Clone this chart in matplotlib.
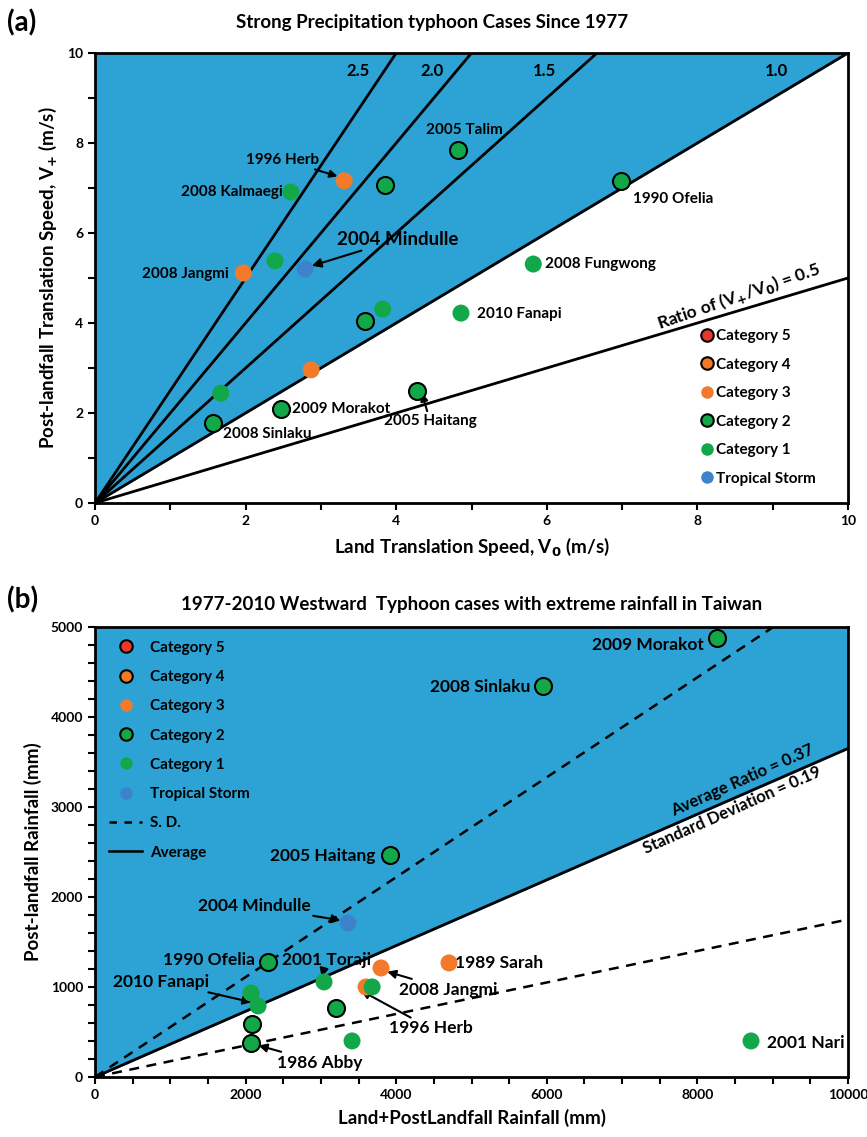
import numpy as np
import matplotlib
matplotlib.use('Agg')
import matplotlib.pyplot as plt
from matplotlib.lines import Line2D
from matplotlib.ticker import MultipleLocator

plt.rcParams['font.family'] = ['Lato', 'DejaVu Sans']
plt.rcParams['font.weight'] = 'bold'
plt.rcParams['axes.titleweight'] = 'bold'
plt.rcParams['axes.labelweight'] = 'bold'

BLUE = '#2ca3d4'
colours = {'5': '#e8382a', '4': '#f07a28', '3': '#f37a2b', '2': '#12a84a',
           '1': '#12a84a', 'TS': '#3d82cb'}
edged = {'5': True, '4': True, '3': False, '2': True, '1': False, 'TS': False}
cat_names = ['Category 5', 'Category 4', 'Category 3', 'Category 2', 'Category 1', 'Tropical Storm']
cat_keys = ['5', '4', '3', '2', '1', 'TS']

# ---- panel (a): translation speeds (m/s)
a_v0 = [3.31, 2.60, 3.85, 4.82, 6.99, 1.97, 2.39, 2.79, 5.82, 4.86, 3.59, 3.82, 2.87, 1.67, 1.57, 2.47, 4.28]
a_vp = [7.16, 6.91, 7.07, 7.84, 7.16, 5.11, 5.38, 5.20, 5.31, 4.22, 4.04, 4.31, 2.96, 2.44, 1.78, 2.09, 2.49]
a_cat = ['3', '1', '2', '2', '2', '3', '1', 'TS', '1', '1', '2', '1', '3', '1', '2', '2', '2']
a_ratios = [2.5, 2.0, 1.5, 1.0, 0.5]
a_ratio_labels = ['2.5', '2.0', '1.5', '1.0']
a_ratio_label_x = [3.49, 4.47, 5.97, 9.05]

# ---- panel (b): rainfall (mm)
b_total = [8260, 5950, 3918, 3360, 2297, 3041, 2165, 2072, 2085, 2072, 3200, 3413, 3798, 3600, 3680, 4701, 8712]
b_post = [4878, 4344, 2467, 1711, 1278, 1056, 789, 933, 589, 378, 767, 400, 1211, 1000, 1000, 1267, 400]
b_cat = ['2', '2', '2', 'TS', '2', '1', '1', '1', '2', '2', '2', '1', '3', '3', '1', '3', '1']
b_avg = 0.365
b_sd = 0.19

fig = plt.figure(figsize=(8.67, 11.37), dpi=100)
axa = fig.add_axes([0.1096, 0.5576, 0.8685, 0.3958])
axb = fig.add_axes([0.1096, 0.0528, 0.8685, 0.3958])


def scatter_cats(ax, xs, ys, cats):
    for x, y, c in zip(xs, ys, cats):
        ax.scatter(x, y, s=150, color=colours[c], edgecolors='black' if edged[c] else 'none',
                   linewidths=1.5, zorder=5)


def style_axes(ax):
    for sp in ax.spines.values():
        sp.set_linewidth(2)
    ax.tick_params(which='both', direction='out', width=1.5, labelsize=10)
    ax.tick_params(which='major', length=5)
    ax.tick_params(which='minor', length=5)


# panel (a)
xs = np.array([0, 10])
axa.fill_between(xs, xs, 10, color=BLUE, zorder=0)
for r in a_ratios:
    axa.plot(xs, r * xs, color='black', lw=2, zorder=2)
for lab, lx in zip(a_ratio_labels, a_ratio_label_x):
    axa.text(lx, 9.6, lab, fontsize=12, ha='center', va='center')
scatter_cats(axa, a_v0, a_vp, a_cat)
axa.set_xlim(0, 10)
axa.set_ylim(0, 10)
axa.xaxis.set_major_locator(MultipleLocator(2))
axa.xaxis.set_minor_locator(MultipleLocator(1))
axa.yaxis.set_major_locator(MultipleLocator(2))
axa.yaxis.set_minor_locator(MultipleLocator(1))
style_axes(axa)
axa.set_xlabel('Land Translation Speed, V$_\\mathbf{0}$ (m/s)', fontsize=13.5, labelpad=6)
axa.set_ylabel('Post-landfall Translation Speed, V$_\\mathbf{+}$ (m/s)', fontsize=13.5, labelpad=6)
axa.set_title('Strong Precipitation typhoon Cases Since 1977', fontsize=13.5, pad=18, x=0.448)

fs = 11
axa.text(4.9, 8.29, '2005 Talim', fontsize=fs, ha='center', va='center')
axa.annotate('1996 Herb', xy=(3.22, 7.26), xytext=(2.98, 7.63), fontsize=fs, ha='right', va='center',
             arrowprops=dict(arrowstyle='-|>', color='black', lw=1.5, shrinkA=0, shrinkB=0))
axa.text(2.49, 6.91, '2008 Kalmaegi', fontsize=fs, ha='right', va='center')
axa.annotate('2004 Mindulle', xy=(2.88, 5.27), xytext=(3.22, 5.86), fontsize=13.5, ha='left', va='center',
             arrowprops=dict(arrowstyle='-|>', color='black', lw=1.5, shrinkA=0, shrinkB=0))
axa.text(1.78, 5.09, '2008 Jangmi', fontsize=fs, ha='right', va='center')
axa.text(7.14, 6.76, '1990 Ofelia', fontsize=fs, ha='left', va='center')
axa.text(5.98, 5.31, '2008 Fungwong', fontsize=fs, ha='left', va='center')
axa.text(5.07, 4.2, '2010 Fanapi', fontsize=fs, ha='left', va='center')
axa.text(2.62, 2.09, '2009 Morakot', fontsize=fs, ha='left', va='center')
axa.text(1.70, 1.53, '2008 Sinlaku', fontsize=fs, ha='left', va='center')
axa.annotate('2005 Haitang', xy=(4.34, 2.44), xytext=(4.45, 1.98), fontsize=fs, ha='center', va='top',
             arrowprops=dict(arrowstyle='-|>', color='black', lw=1.5, shrinkA=0, shrinkB=0))
axa.text(8.55, 4.6, 'Ratio of (V$_\\mathbf{+}$/V$_\\mathbf{0}$) = 0.5', fontsize=12.5,
         ha='center', va='center', rotation=19)

handles = [Line2D([], [], ls='none', marker='o', ms=9, mfc=colours[k],
                  mec='black' if edged[k] else colours[k], mew=1.5 if edged[k] else 0)
           for k in cat_keys]
axa.legend(handles, cat_names, loc='lower right', bbox_to_anchor=(0.975, 0.008), frameon=False,
           fontsize=11, handletextpad=0.05, labelspacing=0.95, handlelength=1.0)

# panel (b)
xb = np.array([0, 10000])
axb.fill_between(xb, b_avg * xb, 5000, color=BLUE, zorder=0)
axb.plot(xb, b_avg * xb, color='black', lw=2, zorder=2)
axb.plot(xb, (b_avg + b_sd) * xb, color='black', lw=1.8, ls=(0, (4, 3)), zorder=2)
axb.plot(xb, (b_avg - b_sd) * xb, color='black', lw=1.8, ls=(0, (4, 3)), zorder=2)
scatter_cats(axb, b_total, b_post, b_cat)
axb.set_xlim(0, 10000)
axb.set_ylim(0, 5000)
axb.xaxis.set_major_locator(MultipleLocator(2000))
axb.xaxis.set_minor_locator(MultipleLocator(500))
axb.yaxis.set_major_locator(MultipleLocator(1000))
axb.yaxis.set_minor_locator(MultipleLocator(200))
style_axes(axb)
axb.set_xlabel('Land+PostLandfall Rainfall (mm)', fontsize=13.5, labelpad=6)
axb.set_ylabel('Post-landfall Rainfall (mm)', fontsize=13.5, labelpad=6)
axb.set_title('1977-2010 Westward  Typhoon cases with extreme rainfall in Taiwan', fontsize=13.5, pad=12)

fb = 12.5
axb.text(8080, 4800, '2009 Morakot', fontsize=fb, ha='right', va='center')
axb.text(5780, 4330, '2008 Sinlaku', fontsize=fb, ha='right', va='center')
axb.text(3720, 2450, '2005 Haitang', fontsize=fb, ha='right', va='center')
axb.annotate('2004 Mindulle', xy=(3260, 1740), xytext=(2860, 1900), fontsize=fb, ha='right', va='center',
             arrowprops=dict(arrowstyle='-|>', color='black', lw=1.5, shrinkA=0, shrinkB=0))
axb.text(2130, 1300, '1990 Ofelia', fontsize=fb, ha='right', va='center')
axb.annotate('2001 Toraji', xy=(3010, 1110), xytext=(2480, 1300), fontsize=fb, ha='left', va='center',
             arrowprops=dict(arrowstyle='-|>', color='black', lw=1.5, shrinkA=0, shrinkB=0))
axb.annotate('2010 Fanapi', xy=(2080, 830), xytext=(1520, 1060), fontsize=fb, ha='right', va='center',
             arrowprops=dict(arrowstyle='-|>', color='black', lw=1.5, shrinkA=0, shrinkB=0))
axb.annotate('2008 Jangmi', xy=(3880, 1170), xytext=(4040, 970), fontsize=fb, ha='left', va='center',
             arrowprops=dict(arrowstyle='-|>', color='black', lw=1.5, shrinkA=0, shrinkB=0))
axb.annotate('1996 Herb', xy=(3530, 960), xytext=(3900, 540), fontsize=fb, ha='left', va='center',
             arrowprops=dict(arrowstyle='-|>', color='black', lw=1.5, shrinkA=0, shrinkB=0))
axb.annotate('1986 Abby', xy=(2170, 350), xytext=(2420, 160), fontsize=fb, ha='left', va='center',
             arrowprops=dict(arrowstyle='-|>', color='black', lw=1.5, shrinkA=0, shrinkB=0))
axb.text(4780, 1267, '1989 Sarah', fontsize=fb, ha='left', va='center')
axb.text(8920, 380, '2001 Nari', fontsize=fb, ha='left', va='center')
axb.text(8600, 3300, 'Average Ratio = 0.37', fontsize=12, ha='center', va='center', rotation=24)
axb.text(8460, 2960, 'Standard Deviation = 0.19', fontsize=12, ha='center', va='center', rotation=24)

handles_b = handles + [Line2D([], [], color='black', lw=1.8, ls=(0, (3, 3))),
                       Line2D([], [], color='black', lw=1.8)]
axb.legend(handles_b, cat_names + ['S. D.', 'Average'], loc='upper left', bbox_to_anchor=(0.0, 1.0),
           frameon=False, fontsize=11, handletextpad=0.5, labelspacing=1.0, handlelength=2.2,
           borderaxespad=0.5)

fig.text(0.008, 0.98, '(a)', fontsize=20, ha='left', va='center')
fig.text(0.008, 0.472, '(b)', fontsize=20, ha='left', va='center')

fig.savefig('out.png', dpi=100)
